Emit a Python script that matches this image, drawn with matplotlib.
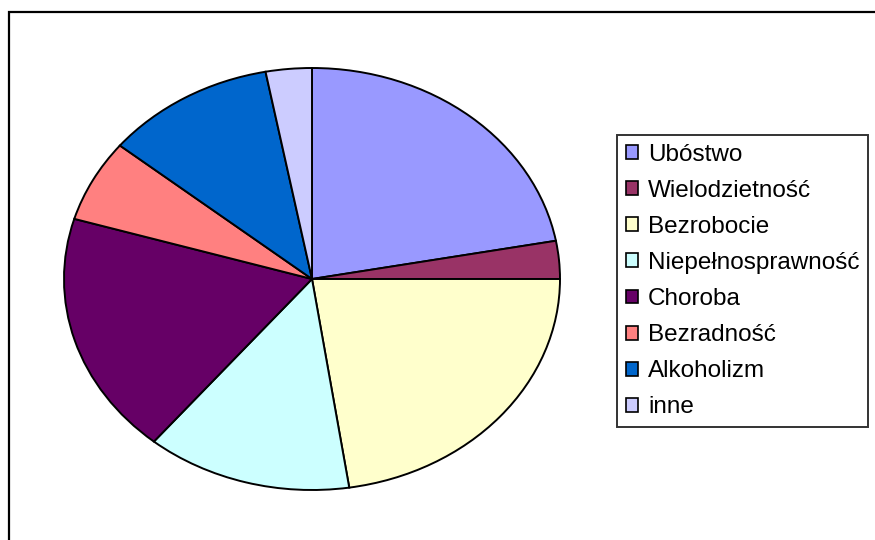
import matplotlib.pyplot as plt
from matplotlib.patches import Patch, Rectangle

# dane wykresu (udzialy w %)
labels = ['Ubóstwo', 'Wielodzietność', 'Bezrobocie', 'Niepełnosprawność',
          'Choroba', 'Bezradność', 'Alkoholizm', 'inne']
values = [22.1, 2.9, 22.6, 13.4, 18.6, 6.3, 11.1, 3.0]
colors = ['#9999FF', '#993366', '#FFFFCC', '#CCFFFF',
          '#660066', '#FF8080', '#0066CC', '#CCCCFF']

plt.rcParams['font.family'] = ['Liberation Sans', 'DejaVu Sans']

fig = plt.figure(figsize=(8.75, 5.4), dpi=100)

# ramka obszaru wykresu (wychodzi poza obraz z prawej i na dole)
fig.patches.append(Rectangle((9 / 875, -0.1), 1.2, 1.1 - 12 / 540,
                             transform=fig.transFigure, fill=False,
                             edgecolor='black', linewidth=1.6))

# elipsa: srodek (312, 279) px, promienie 248 x 211 px
ax = fig.add_axes([64 / 875, 50 / 540, 496 / 875, 422 / 540])
ax.pie(values, colors=colors, startangle=90, counterclock=False,
       wedgeprops=dict(edgecolor='black', linewidth=1.4))
ax.set_aspect('auto')
ax.set_xlim(-1, 1)
ax.set_ylim(-1, 1)
ax.axis('off')

handles = [Patch(facecolor=c, edgecolor='black', linewidth=1.2) for c in colors]
leg = fig.legend(handles, labels, loc='upper left',
                 bbox_to_anchor=(617 / 875, 1 - 135 / 540),
                 frameon=True, fancybox=False, fontsize=17.5,
                 handlelength=0.5, handleheight=0.5, handletextpad=0.42,
                 labelspacing=0.58, borderpad=0.36, borderaxespad=0)
leg.get_frame().set_edgecolor('black')
leg.get_frame().set_linewidth(1.4)

fig.savefig('out.png', dpi=100)
